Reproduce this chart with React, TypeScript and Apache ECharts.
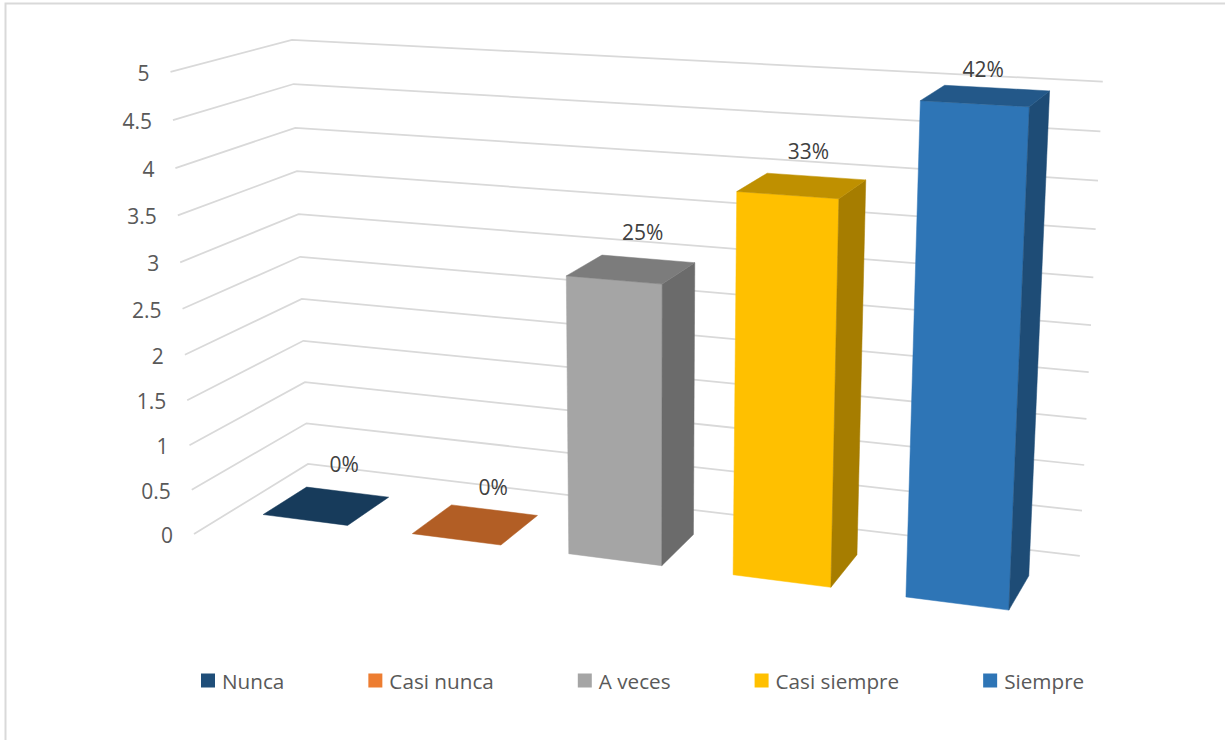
import React, { useEffect, useRef } from "react";
import * as echarts from "echarts";

const categories = ["Nunca", "Casi nunca", "A veces", "Casi siempre", "Siempre"];
const responses = [0, 0, 3, 4, 5];
const tickValues = [0, 0.5, 1, 1.5, 2, 2.5, 3, 3.5, 4, 4.5, 5];
const palette = ["#1f4e79", "#ed7d31", "#a5a5a5", "#ffc000", "#2e75b6"];

const WIDTH = 1225;
const HEIGHT = 740;
const FONT = '"Open Sans", sans-serif';

// Pinhole camera: world (x along categories, y along values, z into the wall) to screen.
const CAMERA = [
  [142.9, -6.376, 142.7, 194],
  [6.8, -93.14, -26.75, 534],
  [-0.02394, -0.00984, 0.09321, 1],
];
const project = (x: number, y: number, z: number): [number, number] => {
  const [a, b, c] = CAMERA;
  const w = c[0] * x + c[1] * y + c[2] * z + c[3];
  return [
    (a[0] * x + a[1] * y + a[2] * z + a[3]) / w,
    (b[0] * x + b[1] * y + b[2] * z + b[3]) / w,
  ];
};

const BAR_HALF_WIDTH = 0.286;
const BAR_FRONT = 0.315;
const BAR_BACK = 0.705;
// Value labels sit a little off the centre of each bar's top face.
const labelOffsets: [number, number][] = [
  [17, -41],
  [17, -37],
  [11, -37],
  [6, -34],
  [-3, -27],
];

const shade = (hex: string, k: number) => {
  const n = parseInt(hex.slice(1), 16);
  const ch = (s: number) => Math.round(((n >> s) & 255) * k);
  return `rgb(${ch(16)},${ch(8)},${ch(0)})`;
};

const total = responses.reduce((s, v) => s + v, 0);

// Converts a point on the flat hidden grid into world units.
const toWorld = (params: any, api: any, cat: number, value: number) => {
  const [px, py] = api.coord([cat, value]);
  const sys = params.coordSys;
  const band = api.size([1, 0])[0];
  return {
    x: (px - sys.x) / band,
    y: ((sys.y + sys.height - py) / sys.height) * 5,
  };
};

const renderWalls = (params: any, api: any) => {
  const value = api.value(0) as number;
  const { y } = toWorld(params, api, 0, value);
  const front = project(0, y, 0);
  return {
    type: "group",
    children: [
      {
        type: "polyline",
        shape: { points: [front, project(0, y, 1), project(5, y, 1)] },
        style: { stroke: "#d9d9d9", lineWidth: 1.75, fill: "none" },
      },
      {
        type: "text",
        style: {
          x: front[0] - 21,
          y: front[1] + 1,
          text: String(value),
          fill: "#595959",
          font: `21px ${FONT}`,
          align: "right",
          verticalAlign: "middle",
        },
      },
    ],
  };
};

const polygon = (points: [number, number][], fill: string) => ({
  type: "polygon",
  shape: { points },
  style: { fill, stroke: fill, lineWidth: 0.5 },
});

const renderBar = (index: number) => (params: any, api: any) => {
  const value = api.value(1) as number;
  const { x, y } = toWorld(params, api, index, value);
  const l = x - BAR_HALF_WIDTH;
  const r = x + BAR_HALF_WIDTH;
  const base = palette[index];
  const topFace = [
    project(l, y, BAR_FRONT),
    project(r, y, BAR_FRONT),
    project(r, y, BAR_BACK),
    project(l, y, BAR_BACK),
  ] as [number, number][];
  const children: any[] = [];
  if (value > 0) {
    children.push(
      polygon(
        [project(l, 0, BAR_FRONT), project(r, 0, BAR_FRONT), topFace[1], topFace[0]],
        base,
      ),
      polygon(
        [project(r, 0, BAR_FRONT), project(r, 0, BAR_BACK), topFace[2], topFace[1]],
        shade(base, 0.65),
      ),
    );
  }
  children.push(polygon(topFace, shade(base, 0.75)));
  const centre = project(x, y, 0.515);
  children.push({
    type: "text",
    style: {
      x: centre[0] + labelOffsets[index][0],
      y: centre[1] + labelOffsets[index][1],
      text: `${Math.round((value / total) * 100)}%`,
      fill: "#404040",
      font: `21px ${FONT}`,
      align: "center",
      verticalAlign: "middle",
    },
  });
  return { type: "group", children };
};

export default function App() {
  const ref = useRef<HTMLDivElement>(null);

  useEffect(() => {
    document.body.style.margin = "0";
    const chart = echarts.init(ref.current!, undefined, { renderer: "svg" });
    chart.setOption({
      animation: false,
      backgroundColor: "#ffffff",
      grid: { left: 100, right: 100, top: 60, bottom: 120 },
      xAxis: { type: "category", data: categories, show: false },
      yAxis: { type: "value", min: 0, max: 5, interval: 0.5, show: false },
      legend: {
        left: 201,
        top: 670,
        padding: 0,
        icon: "rect",
        itemWidth: 14,
        itemHeight: 14,
        itemGap: 84,
        textStyle: { color: "#595959", fontSize: 20.7, fontFamily: FONT, padding: [0, 0, 2, 2] },
        data: categories,
      },
      graphic: [
        {
          type: "polyline",
          shape: { points: [[5.5, 740], [5.5, 3.5], [1225, 3.5]] },
          style: { stroke: "#d9d9d9", lineWidth: 2, fill: "none" },
        },
      ],
      series: [
        {
          type: "custom",
          name: "walls",
          silent: true,
          renderItem: renderWalls,
          data: tickValues.map((v) => [v]),
          encode: { y: 0 },
        },
        ...categories.map((name, i) => ({
          type: "custom",
          name,
          itemStyle: { color: palette[i] },
          renderItem: renderBar(i),
          data: [[i, responses[i]]],
          encode: { x: 0, y: 1 },
        })),
      ],
    });
    return () => chart.dispose();
  }, []);

  return <div ref={ref} style={{ width: WIDTH, height: HEIGHT, position: "absolute", left: 0, top: 0 }} />;
}
